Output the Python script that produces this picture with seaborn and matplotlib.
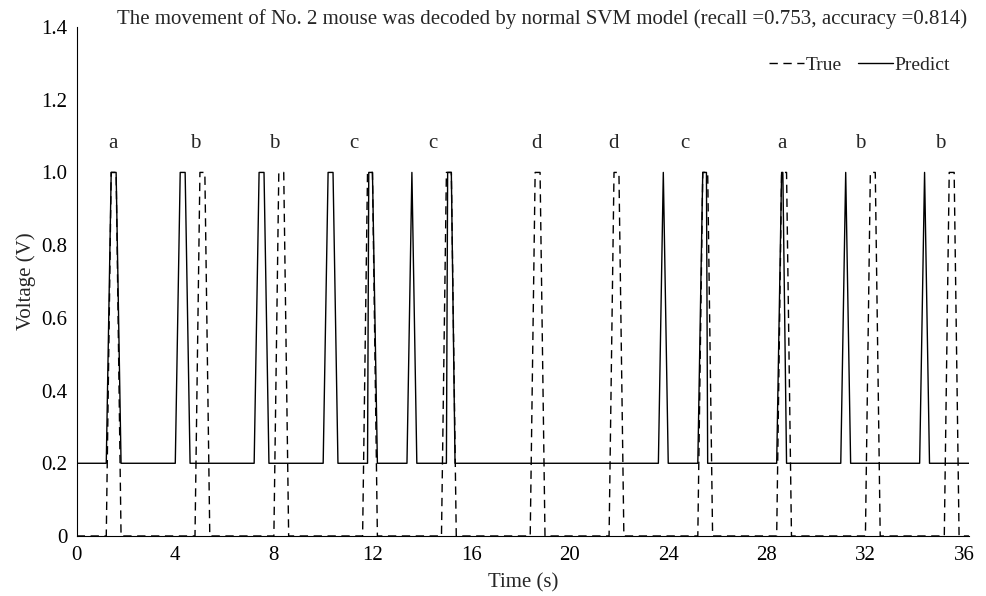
import numpy as np
import pandas as pd
import matplotlib
matplotlib.use("Agg")
import matplotlib.pyplot as plt
import seaborn as sns

# true movement signal (dashed), vertices
true_t = [0.0,
          1.2, 1.4, 1.6, 1.8,
          4.8, 5.0, 5.2, 5.4,
          8.0, 8.2, 8.4, 8.6,
          11.6, 11.8, 12.0, 12.2,
          14.8, 15.0, 15.2, 15.4,
          18.4, 18.6, 18.8, 19.0,
          21.6, 21.8, 22.0, 22.2,
          25.2, 25.4, 25.6, 25.8,
          28.4, 28.6, 28.8, 29.0,
          32.0, 32.2, 32.4, 32.6,
          35.2, 35.4, 35.6, 35.8,
          36.2]
true_v = [0,
          0, 1, 1, 0,
          0, 1, 1, 0,
          0, 1, 1, 0,
          0, 1, 1, 0,
          0, 1, 1, 0,
          0, 1, 1, 0,
          0, 1, 1, 0,
          0, 1, 1, 0,
          0, 1, 1, 0,
          0, 1, 1, 0,
          0, 1, 1, 0,
          0]

# SVM prediction (solid)
pred_t = [0.0,
          1.2, 1.4, 1.6, 1.8,
          4.0, 4.2, 4.4, 4.6,
          7.2, 7.4, 7.6, 7.8,
          10.0, 10.2, 10.4, 10.6,
          11.8, 11.85, 12.0, 12.2,
          13.4, 13.6, 13.8,
          15.0, 15.05, 15.2, 15.35,
          23.6, 23.8, 24.0,
          25.2, 25.4, 25.55, 25.6,
          28.4, 28.6, 28.65, 28.8,
          31.0, 31.2, 31.4,
          34.2, 34.4, 34.6,
          36.2]
pred_v = [0.2,
          0.2, 1.0, 1.0, 0.2,
          0.2, 1.0, 1.0, 0.2,
          0.2, 1.0, 1.0, 0.2,
          0.2, 1.0, 1.0, 0.2,
          0.2, 1.0, 1.0, 0.2,
          0.2, 1.0, 0.2,
          0.2, 1.0, 1.0, 0.2,
          0.2, 1.0, 0.2,
          0.2, 1.0, 1.0, 0.2,
          0.2, 1.0, 1.0, 0.2,
          0.2, 1.0, 0.2,
          0.2, 1.0, 0.2,
          0.2]

# movement class labels above the pulses
label_x = [1.46, 4.82, 8.03, 11.23, 14.44, 18.67, 21.79, 24.67, 28.61, 31.78, 35.03]
label_txt = ['a', 'b', 'b', 'c', 'c', 'd', 'd', 'c', 'a', 'b', 'b']
label_y = 1.08

x_ticks = [0, 4, 8, 12, 16, 20, 24, 28, 32, 36]
y_ticks = [0, 0.2, 0.4, 0.6, 0.8, 1.0, 1.2, 1.4]
y_ticklabels = ['0', '0.2', '0.4', '0.6', '0.8', '1.0', '1.2', '1.4']

sns.set_style('white')
plt.rcParams['font.family'] = ['Liberation Serif', 'DejaVu Serif']
plt.rcParams['font.size'] = 15

df_true = pd.DataFrame({'t': true_t, 'v': true_v})
df_pred = pd.DataFrame({'t': pred_t, 'v': pred_v})

fig = plt.figure(figsize=(9.87, 5.96), dpi=100)
ax = fig.add_axes([0.0777, 0.1007, 0.904, 0.854])

sns.lineplot(data=df_true, x='t', y='v', ax=ax, estimator=None, sort=False,
             color='black', linewidth=1.0, label='True')
ax.lines[-1].set_dashes((6, 4))
sns.lineplot(data=df_pred, x='t', y='v', ax=ax, estimator=None, sort=False,
             color='black', linewidth=1.0, label='Predict')

for xx, tt in zip(label_x, label_txt):
    ax.text(xx, label_y, tt, ha='center', va='center', fontsize=15)

ax.set_xlim(0, 36.2)
ax.set_ylim(0, 1.4)
ax.set_xticks(x_ticks)
ax.set_yticks(y_ticks)
ax.set_yticklabels(y_ticklabels)
ax.tick_params(direction='in', length=5, width=0.8, colors='black', labelsize=15)
ax.tick_params(axis='x', pad=7)
ax.tick_params(axis='y', pad=6.5)
ax.set_xlabel('Time (s)', fontsize=15, labelpad=6)
ax.set_ylabel('Voltage (V)', fontsize=15, labelpad=4)

sns.despine(ax=ax)
for s in ['left', 'bottom']:
    ax.spines[s].set_color('black')
    ax.spines[s].set_linewidth(0.8)

ax.text(0.522, 1.016, 'The movement of No. 2 mouse was decoded by normal SVM model (recall =0.753, accuracy =0.814)',
        transform=ax.transAxes, ha='center', va='center', fontsize=15)

leg = ax.legend(loc='upper right', bbox_to_anchor=(0.992, 0.965), frameon=False, ncol=2,
                handlelength=1.8, handletextpad=0.1, columnspacing=0.8, fontsize=14,
                borderaxespad=0.2)

fig.savefig('out.png', dpi=100)
